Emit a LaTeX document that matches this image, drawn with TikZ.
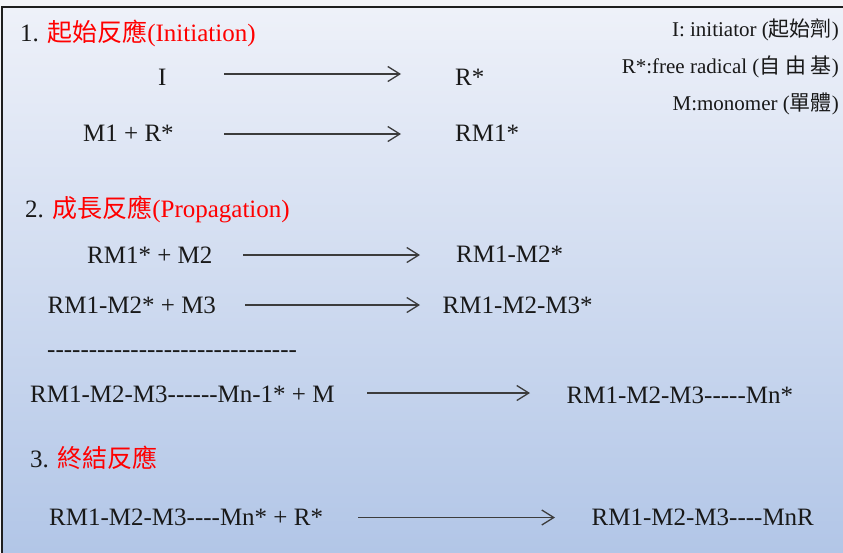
\documentclass[tikz,border=0pt]{standalone}
\usepackage{fontspec}
\setmainfont{Liberation Serif}
\newfontfamily\cjk{Noto Sans CJK TC}
\usetikzlibrary{arrows.meta}
\newcommand\hy{\mbox{-}}
\newcommand\hyten{\hy\hy\hy\hy\hy\hy\hy\hy\hy\hy}
\definecolor{pagebg}{RGB}{243,244,248}
\definecolor{topbg}{RGB}{238,241,249}
\definecolor{botbg}{RGB}{178,198,231}
\definecolor{framecol}{RGB}{30,30,30}
\definecolor{txtcol}{RGB}{25,25,25}
\definecolor{arrcol}{RGB}{60,60,60}
\definecolor{redtxt}{RGB}{255,0,0}
\tikzset{
  txt/.style={inner sep=0pt, anchor=base west, text=txtcol, font=\fontsize{25}{30}\selectfont},
  legend/.style={inner sep=0pt, anchor=base east, text=txtcol, font=\fontsize{21}{25}\selectfont},
  arr/.style={draw=arrcol, line width=1.3pt, -{Straight Barb[length=12pt,width=15pt,line width=1.3pt]}},
}
\begin{document}
\begin{tikzpicture}[x=1pt,y=-1pt]
\useasboundingbox (0,0) rectangle (843,552);
\fill[pagebg] (0,0) rectangle (843,552);
\shade[top color=topbg, bottom color=botbg] (2,8) rectangle (843,552);
\draw[framecol, line width=2pt] (1.5,570) -- (1.5,7) -- (860,7);

% Section 1
\node[txt] (t1) at (20,41) {1. {\color{redtxt}{\cjk 起始反應}(Initiation)}};
\node[legend] (l1) at (839,36) {I: initiator ({\cjk 起始劑})};
\node[legend] (l2) at (839,73) {R*:free radical ({\cjk 自 由 基})};
\node[legend] (l3) at (839,110) {M:monomer ({\cjk 單體})};

\node[txt] (r1l) at (158,85) {I};
\node[txt] (r1r) at (455,85) {R*};
\coordinate (a1s) at (224,74);
\coordinate (a1e) at (401,74);
\draw[arr] (a1s) -- (a1e);

\node[txt] (r2l) at (83,141.5) {M1 + R*};
\node[txt] (r2r) at (455,141.5) {RM1*};
\coordinate (a2s) at (224,134);
\coordinate (a2e) at (401,134);
\draw[arr] (a2s) -- (a2e);

% Section 2
\node[txt] (t2) at (25,217) {2. {\color{redtxt}{\cjk 成長反應}(Propagation)}};

\node[txt] (r3l) at (87,263) {RM1* + M2};
\node[txt] (r3r) at (456,262.5) {RM1-M2*};
\coordinate (a3s) at (243,255);
\coordinate (a3e) at (420,255);
\draw[arr] (a3s) -- (a3e);

\node[txt] (r4l) at (47.5,313) {RM1-M2* + M3};
\node[txt] (r4r) at (442.5,313.5) {RM1-M2-M3*};
\coordinate (a4s) at (245,305);
\coordinate (a4e) at (420,305);
\draw[arr] (a4s) -- (a4e);

\node[txt] (dots) at (47,357) {\hyten\hyten\hyten};

\node[txt] (r5l) at (30,402.5) {RM1-M2-M3\hy\hy\hy\hy\hy\hy{}Mn-1* + M};
\node[txt] (r5r) at (566.5,403.5) {RM1-M2-M3\hy\hy\hy\hy\hy{}Mn*};
\coordinate (a5s) at (367,393);
\coordinate (a5e) at (530,393);
\draw[arr] (a5s) -- (a5e);

% Section 3
\node[txt] (t3) at (30,467) {3. {\color{redtxt}\cjk 終結反應}};

\node[txt] (r6l) at (49,525) {RM1-M2-M3\hy\hy\hy\hy{}Mn* + R*};
\node[txt] (r6r) at (591.5,525) {RM1-M2-M3\hy\hy\hy\hy{}MnR};
\coordinate (a6s) at (358,517.5);
\coordinate (a6e) at (555,517.5);
\draw[arr] (a6s) -- (a6e);
\end{tikzpicture}
\end{document}
